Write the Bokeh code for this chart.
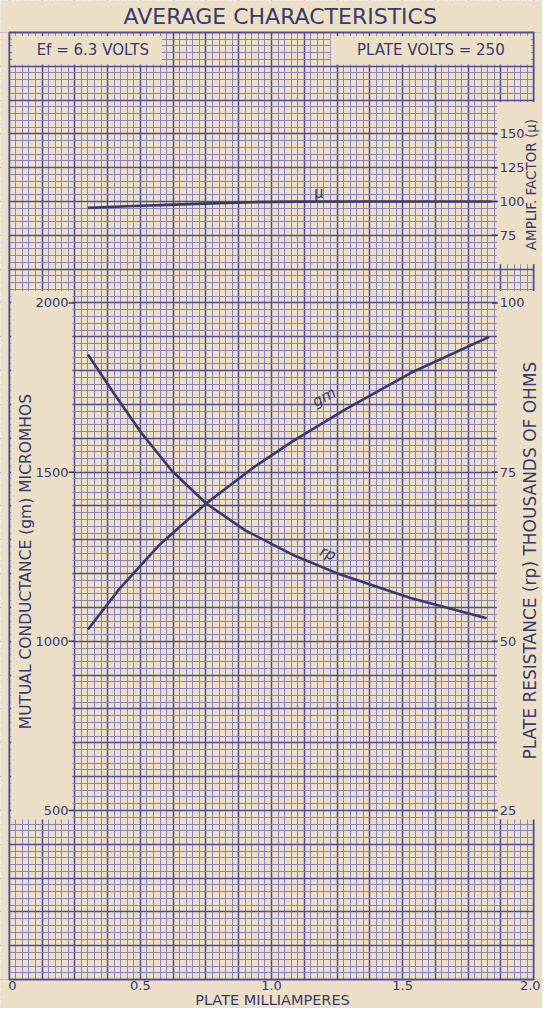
import math
from bokeh.plotting import figure
from bokeh.models import Range1d, SingleIntervalTicker
from bokeh.core.properties import value
from bokeh.embed import file_html
from bokeh.resources import INLINE

# ---------------- data ----------------
plate_ma_gm = [0.30, 0.42, 0.57, 0.75, 0.93, 1.08, 1.28, 1.53, 1.83]
gm_umho = [1035, 1155, 1283, 1407, 1513, 1591, 1685, 1793, 1900]

plate_ma_rp = [0.30, 0.40, 0.50, 0.62, 0.75, 0.90, 1.08, 1.26, 1.53, 1.82]
rp_kohm = [92.4, 86.6, 81.0, 75.2, 70.4, 66.4, 62.8, 59.9, 56.4, 53.4]

plate_ma_mu = [0.30, 0.45, 0.63, 0.80, 0.93, 1.10, 1.30, 1.84]
mu_vals = [95.3, 96.5, 97.7, 98.8, 99.5, 99.9, 100.0, 100.0]

x_ticks = [0, 0.5, 1.0, 1.5, 2.0]
x_tick_labels = ["0", "0.5", "1.0", "1.5", "2.0"]
gm_ticks = [500, 1000, 1500, 2000]
gm_tick_labels = ["500", "1000", "1500", "2000"]
rp_ticks = [25, 50, 75, 100]
rp_tick_labels = ["25", "50", "75", "100"]
mu_ticks = [75, 100, 125, 150]
mu_tick_labels = ["75", "100", "125", "150"]

title_text = "AVERAGE CHARACTERISTICS"
x_title = "PLATE MILLIAMPERES"
gm_title = "MUTUAL CONDUCTANCE (gm) MICROMHOS"
rp_title = "PLATE RESISTANCE (rp) THOUSANDS OF OHMS"
mu_title = "AMPLIF. FACTOR (μ)"
note_left = "Ef = 6.3 VOLTS"
note_right = "PLATE VOLTS = 250"

# ---------------- layout helpers (reference-sheet pixels -> data) ----------------
W, H = 542, 1008
PAPER = "#ebdfc8"
INK = "#383b6c"
FINE = "#8c85bd"
HEAVY = "#524e96"
FONT = value("DejaVu Sans")

def px2x(px):
    return (px - 9.0) / 270.0

def py2y(py):
    return 2000.0 - (py - 307.3) / 0.3437

y_lo, y_hi = py2y(1024), py2y(0)
x_lo, x_hi = px2x(0), px2x(558)

p = figure(width=W, height=H, output_backend="svg", toolbar_location=None,
           x_axis_location=None, y_axis_location=None, min_border=0,
           x_range=Range1d(x_lo, x_hi), y_range=Range1d(y_lo, y_hi),
           background_fill_color=PAPER, border_fill_color=PAPER,
           outline_line_color=None)
p.extra_y_ranges = {
    "rp": Range1d(y_lo / 20.0, y_hi / 20.0),
    "mu": Range1d(100 + (y_lo - 2300) / 4.0, 100 + (y_hi - 2300) / 4.0),
}

# graph-paper grid
p.xgrid.ticker = SingleIntervalTicker(interval=0.125, num_minor_ticks=5)
p.ygrid.ticker = SingleIntervalTicker(interval=100, num_minor_ticks=5)
for g in (p.xgrid, p.ygrid):
    g.grid_line_color = HEAVY
    g.grid_line_width = 1.5
    g.minor_grid_line_color = FINE
    g.minor_grid_line_width = 1

GRID_TOP = 2800
# masks outside the paper area
p.quad(left=[x_lo, x_lo, x_lo, 2.0], right=[x_hi, x_hi, 0.0, x_hi],
       bottom=[GRID_TOP, y_lo, 0, 0], top=[y_hi, 0, GRID_TOP, GRID_TOP],
       fill_color=PAPER, line_color=None)
# paper border
p.quad(left=[0], right=[2.0], bottom=[0], top=[GRID_TOP],
       fill_color=None, line_color=HEAVY, line_width=1.6)

# blank label panels on the paper
pan_l = [px2x(12), px2x(340), px2x(11), px2x(511), px2x(511)]
pan_r = [px2x(166), px2x(546), px2x(74), x_hi, x_hi]
pan_t = [py2y(36), py2y(36), py2y(295), py2y(295), py2y(103)]
pan_b = [py2y(65), py2y(65), py2y(832), py2y(832), py2y(268)]
p.quad(left=pan_l, right=pan_r, top=pan_t, bottom=pan_b,
       fill_color=PAPER, line_color=None)

# tick stubs
p.segment(x0=[px2x(70)] * 4, x1=[px2x(76)] * 4, y0=gm_ticks, y1=gm_ticks,
          line_color=INK, line_width=1.5)
p.segment(x0=[px2x(506)] * 4, x1=[px2x(512)] * 4, y0=rp_ticks, y1=rp_ticks,
          line_color=INK, line_width=1.5, y_range_name="rp")
p.segment(x0=[px2x(506)] * 4, x1=[px2x(512)] * 4, y0=mu_ticks, y1=mu_ticks,
          line_color=INK, line_width=1.5, y_range_name="mu")

# curves
p.line(plate_ma_gm, gm_umho, line_color=INK, line_width=2.6, line_join="round")
p.line(plate_ma_rp, rp_kohm, line_color=INK, line_width=2.6, line_join="round",
       y_range_name="rp")
p.line(plate_ma_mu, mu_vals, line_color=INK, line_width=2.6, line_join="round",
       y_range_name="mu")

# curve labels
p.text(x=[1.18], y=[106.5], text=["μ"], y_range_name="mu", text_color=INK,
       text_font=FONT, text_font_size="15px", text_align="center",
       text_baseline="middle")
p.text(x=[1.20], y=[1722], text=["gm"], text_color=INK, angle=math.radians(29),
       text_font=FONT, text_font_size="15px", text_font_style="italic",
       text_align="center", text_baseline="middle")
p.text(x=[1.215], y=[63.0], text=["rp"], y_range_name="rp", text_color=INK,
       angle=math.radians(-22), text_font=FONT, text_font_size="15px",
       text_font_style="italic", text_align="center", text_baseline="middle")

# tick labels
p.text(x=[px2x(70)] * 4, y=gm_ticks, text=gm_tick_labels, text_color=INK,
       text_font=FONT, text_font_size="13px", text_align="right",
       text_baseline="middle")
p.text(x=[px2x(514)] * 4, y=rp_ticks, text=rp_tick_labels, text_color=INK,
       text_font=FONT, text_font_size="13px", text_align="left",
       text_baseline="middle", y_range_name="rp")
p.text(x=[px2x(514)] * 4, y=mu_ticks, text=mu_tick_labels, text_color=INK,
       text_font=FONT, text_font_size="13px", text_align="left",
       text_baseline="middle", y_range_name="mu")
p.text(x=[px2x(8), 0.5, 1.0, 1.5, px2x(556)], y=[py2y(1001)] * 5,
       text=x_tick_labels, text_color=INK, text_font=FONT,
       text_font_size="13px",
       text_align=["left", "center", "center", "center", "right"],
       text_baseline="middle")

# titles and notes
p.text(x=[px2x(288)], y=[py2y(16)], text=[title_text], text_color=INK,
       text_font=FONT, text_font_size="22px", text_align="center",
       text_baseline="middle")
p.text(x=[px2x(280)], y=[py2y(1015)], text=[x_title], text_color=INK,
       text_font=FONT, text_font_size="14.5px", text_align="center",
       text_baseline="middle")
p.text(x=[px2x(95), px2x(443)], y=[py2y(50)] * 2, text=[note_left, note_right],
       text_color=INK, text_font=FONT, text_font_size="15px",
       text_align="center", text_baseline="middle")
p.text(x=[px2x(26)], y=[py2y(570)], text=[gm_title], text_color=INK,
       angle=math.pi / 2, text_font=FONT, text_font_size="15.5px",
       text_align="center", text_baseline="middle")
p.text(x=[px2x(545)], y=[py2y(569)], text=[rp_title], text_color=INK,
       angle=math.pi / 2, text_font=FONT, text_font_size="17px",
       text_align="center", text_baseline="middle")
p.text(x=[px2x(546)], y=[py2y(187)], text=[mu_title], text_color=INK,
       angle=math.pi / 2, text_font=FONT, text_font_size="13.5px",
       text_align="center", text_baseline="middle")

html = file_html(p, INLINE)
html = html.replace("<body>", '<body style="background-color:%s">' % PAPER, 1)
open("out.html", "w").write(html)
